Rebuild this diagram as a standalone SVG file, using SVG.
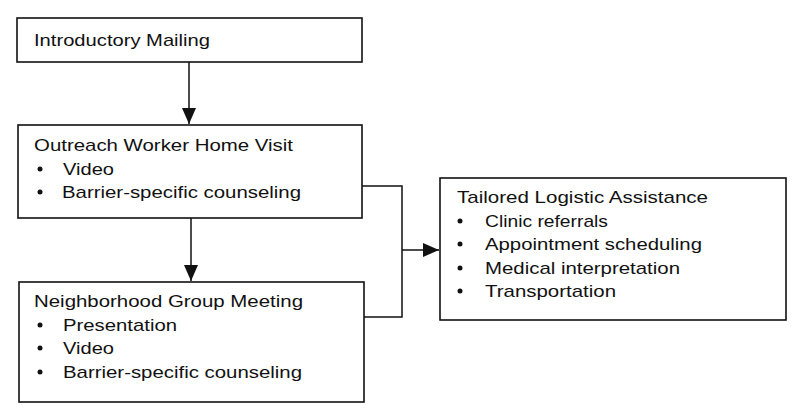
<svg xmlns="http://www.w3.org/2000/svg" width="800" height="417" viewBox="0 0 800 417">
<defs>
<style>
.box{fill:#fff;stroke:#111;stroke-width:1.6}
.t{font-family:"Liberation Sans",Arial,sans-serif;font-size:17px;fill:#111}
.b{fill:#111}
.c{fill:none;stroke:#111;stroke-width:1.5}
</style>
<marker id="ah" markerUnits="userSpaceOnUse" markerWidth="16" markerHeight="14" viewBox="0 0 16 14" refX="16" refY="7" orient="auto">
<path d="M0,0 L16,7 L0,14 Z" fill="#111"/>
</marker>
</defs>
<rect width="800" height="417" fill="#fff"/>
<g id="connectors">
<path class="c" d="M189,62 V124" marker-end="url(#ah)"/>
<path class="c" d="M191,218 V281" marker-end="url(#ah)"/>
<path class="c" d="M362,186 H402 V317 H364"/>
<path class="c" d="M402,250 H439" marker-end="url(#ah)"/>
</g>
<g id="introductory-mailing">
<rect class="box" x="17" y="18" width="345" height="44"/>
<text class="t" x="34" y="46" textLength="176" lengthAdjust="spacingAndGlyphs">Introductory Mailing</text>
</g>
<g id="outreach-worker-home-visit">
<rect class="box" x="18" y="125" width="344" height="93"/>
<text class="t" x="34" y="151" textLength="259" lengthAdjust="spacingAndGlyphs">Outreach Worker Home Visit</text>
<circle class="b" cx="40" cy="169" r="2.5"/>
<text class="t" x="63" y="175" textLength="51" lengthAdjust="spacingAndGlyphs">Video</text>
<circle class="b" cx="40" cy="192" r="2.5"/>
<text class="t" x="62" y="198" textLength="239" lengthAdjust="spacingAndGlyphs">Barrier-specific counseling</text>
</g>
<g id="neighborhood-group-meeting">
<rect class="box" x="19" y="282" width="345" height="120"/>
<text class="t" x="34" y="307" textLength="269" lengthAdjust="spacingAndGlyphs">Neighborhood Group Meeting</text>
<circle class="b" cx="40" cy="325" r="2.5"/>
<text class="t" x="63" y="331" textLength="114" lengthAdjust="spacingAndGlyphs">Presentation</text>
<circle class="b" cx="40" cy="348" r="2.5"/>
<text class="t" x="63" y="354" textLength="51" lengthAdjust="spacingAndGlyphs">Video</text>
<circle class="b" cx="40" cy="372" r="2.5"/>
<text class="t" x="63" y="378" textLength="239" lengthAdjust="spacingAndGlyphs">Barrier-specific counseling</text>
</g>
<g id="tailored-logistic-assistance">
<rect class="box" x="440" y="178" width="346" height="142"/>
<text class="t" x="457" y="203" textLength="251" lengthAdjust="spacingAndGlyphs">Tailored Logistic Assistance</text>
<circle class="b" cx="460" cy="221" r="2.5"/>
<text class="t" x="485" y="227" textLength="123" lengthAdjust="spacingAndGlyphs">Clinic referrals</text>
<circle class="b" cx="460" cy="244" r="2.5"/>
<text class="t" x="485" y="250" textLength="217" lengthAdjust="spacingAndGlyphs">Appointment scheduling</text>
<circle class="b" cx="460" cy="268" r="2.5"/>
<text class="t" x="485" y="274" textLength="195" lengthAdjust="spacingAndGlyphs">Medical interpretation</text>
<circle class="b" cx="460" cy="291" r="2.5"/>
<text class="t" x="485" y="297" textLength="131" lengthAdjust="spacingAndGlyphs">Transportation</text>
</g>
</svg>
